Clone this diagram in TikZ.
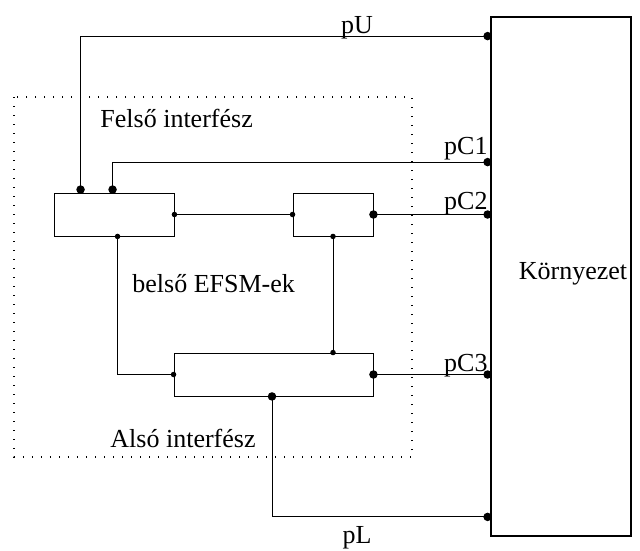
\documentclass[tikz,border=0pt]{standalone}
\usepackage{fontspec}
\setmainfont{Liberation Serif}
\usetikzlibrary{positioning,calc}
\begin{document}
\begin{tikzpicture}[x=1pt, y=-1pt, font=\fontsize{26}{30}\selectfont, line width=0.9pt,
  b/.style={draw, minimum width=#1, minimum height=43pt, inner sep=0pt},
  big/.style={circle, fill, inner sep=0pt, minimum size=8.5pt},
  sm/.style={circle, fill, inner sep=0pt, minimum size=5.5pt},
  lbl/.style={inner sep=0pt, anchor=#1}]
\useasboundingbox (0,0) rectangle (640,551);
% interfesz keret
\draw[line width=1.1pt, dash pattern=on 1.1pt off 7.9pt] (14,97) rectangle (412,457);
\node[b=140pt, minimum height=519pt, line width=1.8pt] (env) at (561,276.5) {};
\node[b=120pt] (fi) at (114,214.5) {}; \node[b=80pt] (fj) at (333,214.5) {};
\node[b=199pt] (ai) at (273.5,374.5) {};
% portok
\coordinate (fiU) at ([xshift=27pt]fi.north west); \coordinate (fiC) at ([xshift=59pt]fi.north west);
\coordinate (fiL) at ([xshift=64pt]fi.south west); \coordinate (aiU) at (ai.north -| fj.south);
\coordinate (aiD) at ([xshift=-1.5pt]ai.south);
\coordinate (eU) at ([yshift=-20pt]env.north west); \coordinate (eC1) at ([yshift=-146pt]env.north west);
\coordinate (eC2) at (env.west |- fj.east); \coordinate (eC3) at (env.west |- ai.east);
\coordinate (eL) at ([yshift=20pt]env.south west);
% vonalak
\draw (fiU) |- (eU); \draw (fiC) |- (eC1); \draw (fi.east) -- (fj.west); \draw (fj.east) -- (eC2);
\draw (fiL) |- (ai.west); \draw (fj.south) -- (aiU); \draw (ai.east) -- (eC3); \draw (aiD) |- (eL);
\foreach \p in {eU,eC1,eC2,eC3,eL} \node[big] at ([xshift=-2.5pt]\p) {};
\foreach \p in {fiU,fiC} \node[big] at ([yshift=3pt]\p) {};
\foreach \p in {fj.east,ai.east,aiD} \node[big] at (\p) {};
\foreach \p in {fi.east,fj.west,fiL,fj.south,aiU,ai.west} \node[sm] at (\p) {};
% feliratok
\node[lbl=base] (kor) at (573,279) {Környezet};
\node[lbl=base] (lU) at (357,34) {pU}; \node[lbl=base] (lL) at (357,543) {pL};
\node[lbl=base east] (lC1) at (488,154) {pC1}; \node[lbl=base east] (lC2) at (488,209) {pC2};
\node[lbl=base east] (lC3) at (488,371) {pC3};
\node[lbl=base west] (felso) at (100,127) {Felső interfész};
\node[lbl=base west] (belso) at (132,292) {belső EFSM-ek};
\node[lbl=base west] (also) at (110,447) {Alsó interfész};
\end{tikzpicture}
\end{document}
